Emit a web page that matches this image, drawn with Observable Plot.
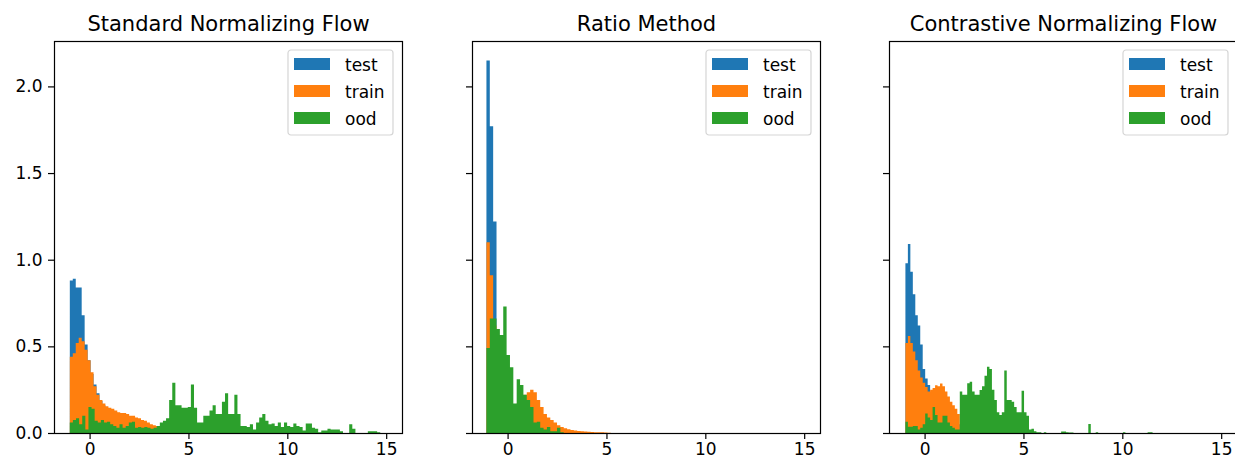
<!DOCTYPE html>
<html><head><meta charset="utf-8">
<script src="https://cdn.jsdelivr.net/npm/d3@7"></script>
<script src="https://cdn.jsdelivr.net/npm/@observablehq/plot@0.6"></script>
<style>
html,body{margin:0;padding:0;background:#fff;overflow:hidden;}
#chart{position:relative;width:1235px;height:459px;overflow:hidden;font-family:"DejaVu Sans",sans-serif;}
#chart svg{position:absolute;top:0;}
</style></head><body><div id="chart"></div>
<script>
// ---- data ----
const panelTitles = ["Standard Normalizing Flow", "Ratio Method", "Contrastive Normalizing Flow"];
const seriesNames = ["test", "train", "ood"];
const seriesColors = ["#1f77b4", "#ff7f0e", "#2ca02c"];
const xTicks = [0, 5, 10, 15];
const yTicks = [0, 0.5, 1.0, 1.5, 2.0];

// Panel 1: Standard Normalizing Flow (histogram densities, bin start / bin width per series)
const p1BinStart = [-1.0, -1.0, -1.0];
const p1BinWidth = [0.15, 0.15, 0.157];
const p1Test = [0.88, 0.89, 0.84, 0.84, 0.68, 0.51, 0.42, 0.34, 0.28, 0.23, 0.185, 0.16, 0.145, 0.135, 0.13, 0.12, 0.11, 0.105, 0.10, 0.10, 0.09, 0.09, 0.08, 0.075, 0.065, 0.06, 0.05, 0.045, 0.04, 0.035];
const p1Train = [0.44, 0.46, 0.52, 0.55, 0.53, 0.48, 0.42, 0.35, 0.27, 0.22, 0.19, 0.17, 0.155, 0.145, 0.14, 0.13, 0.12, 0.115, 0.115, 0.11, 0.10, 0.10, 0.09, 0.085, 0.075, 0.07, 0.06, 0.05, 0.045, 0.04];
const p1Ood = [0.06, 0.075, 0.085, 0.05, 0.10, 0.02, 0.15, 0.14, 0.07, 0.06,
  0.075, 0.06, 0.065, 0.05, 0.04, 0.03, 0.05, 0.03, 0.04, 0.06,
  0.065, 0.03, 0.035, 0.03, 0.035, 0.03, 0.025, 0.03, 0.04, 0.06,
  0.07, 0.085, 0.19, 0.29, 0.16, 0.16, 0.145, 0.145, 0.15, 0.28,
  0.145, 0.06, 0.06, 0.10, 0.10, 0.13, 0.16, 0.11, 0.11, 0.18,
  0.23, 0.11, 0.11, 0.22, 0.11, 0.04, 0.04, 0.035, 0.05, 0.02,
  0.06, 0.09, 0.11, 0.07, 0.05, 0.055, 0.04, 0.06, 0.035, 0.06,
  0.04, 0.035, 0.055, 0.04, 0.035, 0.015, 0.055, 0.055, 0.03, 0.025,
  0.005, 0.015, 0.015, 0.025, 0.02, 0.02, 0.02, 0.01, 0, 0,
  0.05, 0.025, 0, 0, 0, 0, 0.01, 0.01, 0.01, 0.005];

// Panel 2: Ratio Method
const p2BinStart = [-1.07, -1.07, -1.07];
const p2BinWidth = [0.17, 0.17, 0.17];
const p2Test = [2.15, 1.77, 1.22, 0.5, 0.40, 0.30, 0.19, 0.15, 0.13, 0.12, 0.12, 0.11, 0.10, 0.09, 0.08, 0.07, 0.06, 0.05, 0.04, 0.03, 0.025, 0.02, 0.015, 0.01, 0.008, 0.005, 0.004, 0.003, 0.002, 0.001];
const p2Train = [1.10, 0.91, 0.62, 0.45, 0.33, 0.25, 0.2, 0.16, 0.15, 0.17, 0.2, 0.22, 0.235, 0.25, 0.235, 0.19, 0.15, 0.11, 0.09, 0.075, 0.06, 0.045, 0.035, 0.027, 0.022, 0.017, 0.015, 0.012, 0.01, 0.009, 0.007, 0.006, 0.005, 0.004, 0.004, 0.003, 0.002];
const p2Ood = [0.49, 0.66, 0.66, 0.6, 0.565, 0.73, 0.45, 0.38, 0.17, 0.31, 0.277, 0.22, 0.19, 0.15, 0.06, 0.065, 0.03, 0.02, 0.035, 0.01, 0.01, 0.03, 0.005];

// Panel 3: Contrastive Normalizing Flow
const p3BinStart = [-0.97, -0.97, -0.97];
const p3BinWidth = [0.125, 0.125, 0.125];
const p3Test = [0.98, 1.09, 0.93, 0.80, 0.68, 0.62, 0.51, 0.37, 0.315, 0.277, 0.22, 0.2, 0.19, 0.18, 0.17, 0.16, 0.14, 0.12, 0.10, 0.08, 0.06, 0.05];
const p3Train = [0.52, 0.56, 0.52, 0.47, 0.42, 0.36, 0.32, 0.29, 0.265, 0.24, 0.25, 0.26, 0.275, 0.27, 0.285, 0.27, 0.24, 0.21, 0.18, 0.16, 0.14, 0.11];
const p3Ood = [0.065, 0.036, 0.036, 0.04, 0.04, 0.02, 0.03, 0.05, 0.113, 0.09,
  0.075, 0.15, 0.104, 0.06, 0.06, 0.10, 0.10, 0.06, 0.04, 0.03,
  0.02, 0.02, 0.24, 0.22, 0.22, 0.287, 0.296, 0.24, 0.22, 0.22,
  0.248, 0.27, 0.33, 0.383, 0.37, 0.25, 0.19, 0.12, 0.104, 0.12,
  0.36, 0.19, 0.19, 0.18, 0.15, 0.12, 0.12, 0.244, 0.12, 0.10,
  0.02, 0.025, 0.01, 0.005, 0.005, 0, 0.005, 0, 0, 0,
  0, 0, 0, 0.008, 0.008, 0.005, 0.003, 0.003, 0, 0,
  0, 0, 0, 0, 0.052, 0, 0, 0.005, 0, 0,
  0, 0, 0, 0, 0, 0, 0, 0, 0.005, 0,
  0, 0, 0, 0, 0, 0, 0, 0, 0.005, 0.005];

const panels = [
  {title: panelTitles[0], series: [p1Test, p1Train, p1Ood], starts: p1BinStart, widths: p1BinWidth, yLabels: true},
  {title: panelTitles[1], series: [p2Test, p2Train, p2Ood], starts: p2BinStart, widths: p2BinWidth, yLabels: false},
  {title: panelTitles[2], series: [p3Test, p3Train, p3Ood], starts: p3BinStart, widths: p3BinWidth, yLabels: false}
];

// ---- layout ----
const W = 417, H = 459, ML = 54, MR = 15, MT = 41, MB = 26;
const panelLeft = [0, 418, 835];

function stepPoints(heights, start, width) {
  const pts = heights.map((h, i) => ({x: start + i * width, h}));
  pts.push({x: start + heights.length * width, h: heights[heights.length - 1]});
  return pts;
}

const chart = document.getElementById("chart");
panels.forEach((p, pi) => {
  const areas = p.series.map((heights, si) =>
    Plot.areaY(stepPoints(heights, p.starts[si], p.widths[si]), {
      x: "x", y1: 0, y2: "h", curve: "step-after", fill: seriesColors[si]
    })
  );
  const svg = Plot.plot({
    width: W, height: H,
    marginLeft: ML, marginRight: MR, marginTop: MT, marginBottom: MB,
    style: {fontFamily: "DejaVu Sans", fontSize: "17px", color: "black", background: "transparent", overflow: "visible"},
    x: {domain: [-1.8, 15.8]},
    y: {domain: [0, 2.262]},
    marks: [
      ...areas,
      Plot.frame({stroke: "black", strokeWidth: 1.2}),
      Plot.axisX(xTicks, {tickSize: 6, tickPadding: 3, strokeWidth: 1.2, fontSize: 17, fill: "black", tickFormat: d => String(d), label: null}),
      Plot.axisY(yTicks, {tickSize: 6, tickPadding: 6, strokeWidth: 1.2, fontSize: 17, fill: "black", tickFormat: p.yLabels ? d3.format(".1f") : () => "", label: null}),
      Plot.text([p.title], {frameAnchor: "top", dy: -11, lineAnchor: "bottom", fontSize: 21, fill: "black"})
    ]
  });
  svg.style.left = panelLeft[pi] + "px";
  chart.appendChild(svg);

  // legend inside the upper-right corner of the axes
  const bw = 105, bh = 85;
  const g = d3.select(svg).append("g")
    .attr("transform", `translate(${W - MR - 9 - bw},${MT + 9})`);
  g.append("rect").attr("width", bw).attr("height", bh).attr("rx", 3)
    .attr("fill", "white").attr("fill-opacity", 0.8).attr("stroke", "#d5d5d5").attr("stroke-width", 1.2);
  seriesNames.forEach((name, k) => {
    g.append("rect").attr("x", 6).attr("y", 8 + 27 * k).attr("width", 36).attr("height", 12).attr("fill", seriesColors[k]);
    g.append("text").attr("x", 57).attr("y", 8 + 27 * k + 12.5)
      .attr("text-anchor", "start")
      .attr("font-family", "DejaVu Sans").attr("font-size", 17).attr("fill", "black").text(name);
  });
});
</script></body></html>
